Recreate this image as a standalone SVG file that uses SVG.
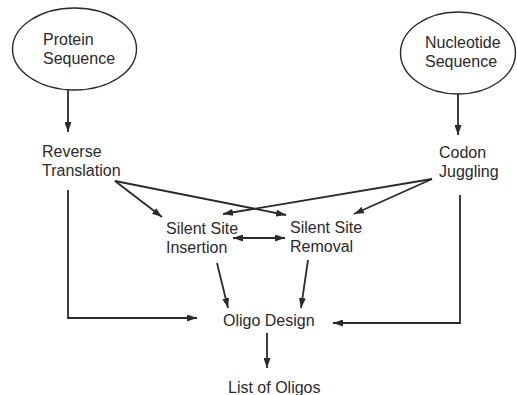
<svg xmlns="http://www.w3.org/2000/svg" width="517" height="395" viewBox="0 0 517 395">
<defs>
<style>
text{font-family:"Liberation Sans",Arial,sans-serif;font-size:16px;fill:#2a2a2a}
.n{fill:none;stroke:#2a2a2a;stroke-width:1.4}
.c{fill:none;stroke:#2a2a2a;stroke-width:1.8}
.a{marker-end:url(#ah)}
.b{marker-start:url(#ah);marker-end:url(#ah)}
</style>
<marker id="ah" viewBox="0 0 10 7" refX="10" refY="3.5" markerWidth="10" markerHeight="7" markerUnits="userSpaceOnUse" orient="auto-start-reverse">
<path d="M0,0 L10,3.5 L0,7 z" fill="#2a2a2a"/>
</marker>
</defs>
<g id="protein">
<ellipse class="n" cx="74.5" cy="49" rx="62" ry="41"/>
<text x="43" y="45">Protein</text>
<text x="43" y="64">Sequence</text>
</g>
<g id="nucleotide">
<ellipse class="n" cx="458" cy="53" rx="57.5" ry="41"/>
<text x="425" y="48">Nucleotide</text>
<text x="425" y="67">Sequence</text>
</g>
<g id="reverse">
<text x="42" y="157">Reverse</text>
<text x="42" y="176">Translation</text>
</g>
<g id="codon">
<text x="439" y="158">Codon</text>
<text x="439" y="177">Juggling</text>
</g>
<g id="insertion">
<text x="166" y="234">Silent Site</text>
<text x="166" y="253">Insertion</text>
</g>
<g id="removal">
<text x="290" y="233">Silent Site</text>
<text x="290" y="252">Removal</text>
</g>
<g id="oligo">
<text x="223" y="326">Oligo Design</text>
</g>
<g id="list">
<text x="228" y="393">List of Oligos</text>
</g>
<g id="connectors">
<path class="c a" d="M68,90 L68,132"/>
<path class="c a" d="M458,94 L458,135"/>
<path class="c a" d="M115,181 L162,217"/>
<path class="c a" d="M115,181 L286,215"/>
<path class="c a" d="M432,179 L223,214"/>
<path class="c a" d="M432,179 L354,214"/>
<path class="c b" d="M233,238 L285,238"/>
<path class="c a" d="M217,263 L228,308"/>
<path class="c a" d="M308,260 L301,308"/>
<path class="c a" d="M68,190 L68,318 L197,318"/>
<path class="c a" d="M460,195 L460,323 L333,323"/>
<path class="c a" d="M267,333 L267,368"/>
</g>
</svg>
